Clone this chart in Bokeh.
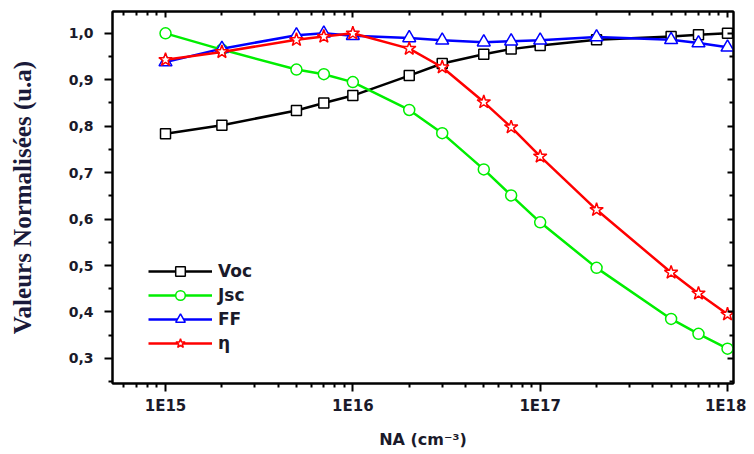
from bokeh.plotting import figure
from bokeh.models import (FixedTicker, CustomJSTickFormatter, LogAxis, LinearAxis,
                          Range1d, Legend, LegendItem)
from bokeh.embed import file_html
from bokeh.resources import INLINE

# ---- data ----
na = [1e15, 2e15, 5e15, 7e15, 1e16, 2e16, 3e16, 5e16, 7e16, 1e17, 2e17, 5e17, 7e17, 1e18]
voc = [0.784, 0.802, 0.834, 0.850, 0.866, 0.909, 0.935, 0.955, 0.966, 0.974, 0.986, 0.993, 0.997, 1.0]
jsc = [1.0, 0.965, 0.922, 0.912, 0.895, 0.835, 0.785, 0.707, 0.651, 0.593, 0.495, 0.385, 0.353, 0.321]
ff = [0.938, 0.967, 0.996, 1.0, 0.995, 0.99, 0.985, 0.981, 0.983, 0.985, 0.992, 0.986, 0.979, 0.970]
eta = [0.943, 0.960, 0.986, 0.993, 1.0, 0.967, 0.927, 0.852, 0.798, 0.735, 0.620, 0.485, 0.440, 0.395]

x_major = [1e15, 1e16, 1e17, 1e18]
x_minor = [float(m) * 10.0 ** e for e in range(14, 18) for m in range(2, 10)]
y_major = [0.3, 0.4, 0.5, 0.6, 0.7, 0.8, 0.9, 1.0]
y_minor = [0.25, 0.35, 0.45, 0.55, 0.65, 0.75, 0.85, 0.95, 1.05]

p = figure(x_axis_type="log", output_backend="svg", toolbar_location=None,
           frame_width=621, frame_height=372,
           x_range=Range1d(10 ** 14.717, 10 ** 18.032),
           y_range=Range1d(0.246, 1.047),
           min_border_left=112, min_border_right=13, min_border_top=11, min_border_bottom=4)
p.background_fill_color = "white"
p.border_fill_color = "white"
p.grid.visible = False
p.outline_line_color = "black"
p.outline_line_width = 2

xfmt = CustomJSTickFormatter(code="return '1E' + Math.round(Math.log10(tick));")
yfmt = CustomJSTickFormatter(code="return tick.toFixed(1).replace('.', ',');")

xa = p.xaxis[0]
xa.ticker = FixedTicker(ticks=x_major, minor_ticks=x_minor)
xa.formatter = xfmt
xa.axis_label = "NA (cm⁻³)"
ya = p.yaxis[0]
ya.ticker = FixedTicker(ticks=y_major, minor_ticks=y_minor)
ya.formatter = yfmt
ya.axis_label = "Valeurs Normalisées (u.a)"

for ax in (xa, ya):
    ax.axis_line_width = 2
    ax.axis_line_color = "black"
    ax.major_tick_line_width = 2
    ax.minor_tick_line_width = 2
    ax.major_tick_out = 8
    ax.major_tick_in = 0
    ax.minor_tick_out = 4
    ax.minor_tick_in = 0
    ax.major_label_text_font = "DejaVu Sans"
    ax.major_label_text_font_style = "bold"
    ax.major_label_text_color = "#1a1a2a"

xa.major_label_text_font_size = "15px"
ya.major_label_text_font_size = "14px"
xa.major_label_standoff = 5
ya.major_label_standoff = 11
xa.axis_label_text_font = "DejaVu Sans"
xa.axis_label_text_font_style = "bold"
xa.axis_label_text_font_size = "16px"
xa.axis_label_text_color = "#1a1a2a"
xa.axis_label_standoff = 12
ya.axis_label_text_font = "Liberation Serif"
ya.axis_label_text_font_style = "bold"
ya.axis_label_text_font_size = "25px"
ya.axis_label_text_color = "#1a1a3a"
ya.axis_label_standoff = 30

top = LogAxis(ticker=FixedTicker(ticks=x_major, minor_ticks=x_minor),
              major_label_text_color=None, major_label_text_font_size="6px",
              major_label_standoff=0,
              axis_line_width=2, major_tick_line_width=2, minor_tick_line_width=2,
              major_tick_in=6, major_tick_out=0, minor_tick_in=4, minor_tick_out=0)
right = LinearAxis(ticker=FixedTicker(ticks=y_major, minor_ticks=y_minor),
                   major_label_text_color=None, major_label_text_font_size="6px",
                   major_label_standoff=0,
                   axis_line_width=2, major_tick_line_width=2, minor_tick_line_width=2,
                   major_tick_in=6, major_tick_out=0, minor_tick_in=4, minor_tick_out=0)
p.add_layout(top, "above")
p.add_layout(right, "right")

series = [
    ("Voc", voc, "#000000", "square", 10),
    ("Jsc", jsc, "#00ee00", "circle", 11),
    ("FF", ff, "#0000ff", "triangle", 13),
    ("η", eta, "#ff0000", "star", 14),
]
items = []
for name, ys, col, mk, sz in series:
    l = p.line(na, ys, line_color=col, line_width=2.5)
    s = p.scatter(na, ys, marker=mk, size=sz, line_color=col, fill_color="white", line_width=1.5)
    items.append(LegendItem(label=name, renderers=[l, s]))

legend = Legend(items=items, location=(36, 28), glyph_width=64, glyph_height=24,
                spacing=0, padding=0, margin=0, label_standoff=6,
                border_line_color=None, background_fill_alpha=0,
                label_text_font="DejaVu Sans", label_text_font_style="bold",
                label_text_font_size="17px", label_text_color="#1a1a2a")
p.add_layout(legend, "center")

open("out.html", "w").write(file_html(p, INLINE))
